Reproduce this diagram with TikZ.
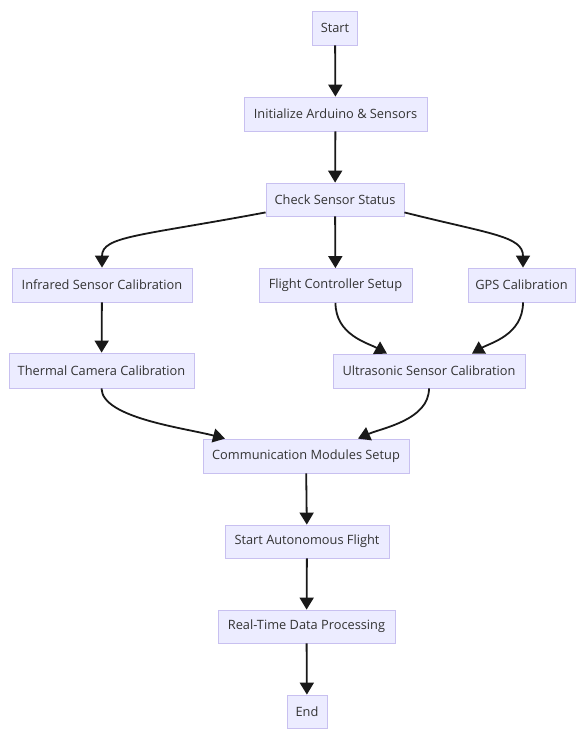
\documentclass[tikz,border=0pt]{standalone}
\usepackage{fontspec}
\setmainfont{Open Sans}
\usetikzlibrary{arrows.meta}
\definecolor{boxfill}{HTML}{ECECFF}
\definecolor{boxline}{HTML}{C8C0F0}
\definecolor{boxtext}{HTML}{333333}
\begin{document}
\begin{tikzpicture}[x=1pt,y=-1pt,
  box/.style={draw=boxline, fill=boxfill, line width=0.8pt, text=boxtext,
    inner sep=0pt, minimum height=34pt, font=\fontsize{12.8}{14}\selectfont},
  arr/.style={line width=1.8pt, draw=black!90,
    -{Triangle[length=12pt,width=14pt]}}]
\useasboundingbox (0,0) rectangle (576,729);
\fill[white] (0,0) rectangle (576,729);
\node[box, minimum width=45pt] (start) at (335,28) {Start};
\node[box, minimum width=183pt] (init) at (335.5,114) {Initialize Arduino \& Sensors};
\node[box, minimum width=138pt, minimum height=33pt] (check) at (335,199.5) {Check Sensor Status};
\node[box, minimum width=180pt] (infra) at (102,285) {Infrared Sensor Calibration};
\node[box, minimum width=153pt] (flight) at (335.5,285.5) {Flight Controller Setup};
\node[box, minimum width=107pt] (gps) at (521.5,285) {GPS Calibration};
\node[box, minimum width=185pt, minimum height=35pt] (thermal) at (101.5,370.5) {Thermal Camera Calibration};
\node[box, minimum width=192pt] (ultra) at (429,371) {Ultrasonic Sensor Calibration};
\node[box, minimum width=206pt] (comms) at (306,456) {Communication Modules Setup};
\node[box, minimum width=164pt, minimum height=33pt] (auto) at (307,541.5) {Start Autonomous Flight};
\node[box, minimum width=177pt, minimum height=33pt] (rtdp) at (306.5,626.5) {Real-Time Data Processing};
\node[box, minimum width=40pt, minimum height=33pt] (end) at (307,711.5) {End};

\draw[arr] (start) -- (init);
\draw[arr] (init) -- (check);
\draw[arr] (check) -- (flight);
\draw[arr] (check.south west) ++(0,-4) .. controls (140,236) and (102,236) .. (infra.north);
\draw[arr] (check.south east) ++(0,-4) .. controls (490,234) and (523,236) .. (gps.north -| 523,0);
\draw[arr] (infra) -- (thermal);
\draw[arr] (flight.south) .. controls (335.5,335) and (368,343) .. ([xshift=-42pt]ultra.north);
\draw[arr] (gps.south -| 523,0) .. controls (523,335) and (490,343) .. ([xshift=43pt]ultra.north);
\draw[arr] (thermal.south) .. controls (102,418) and (185,428) .. ([xshift=-81pt]comms.north);
\draw[arr] (ultra.south) .. controls (429,420) and (382,428) .. ([xshift=52pt]comms.north);
\draw[arr] (comms) -- (auto);
\draw[arr] (auto) -- (rtdp);
\draw[arr] (rtdp) -- (end);
\end{tikzpicture}
\end{document}
